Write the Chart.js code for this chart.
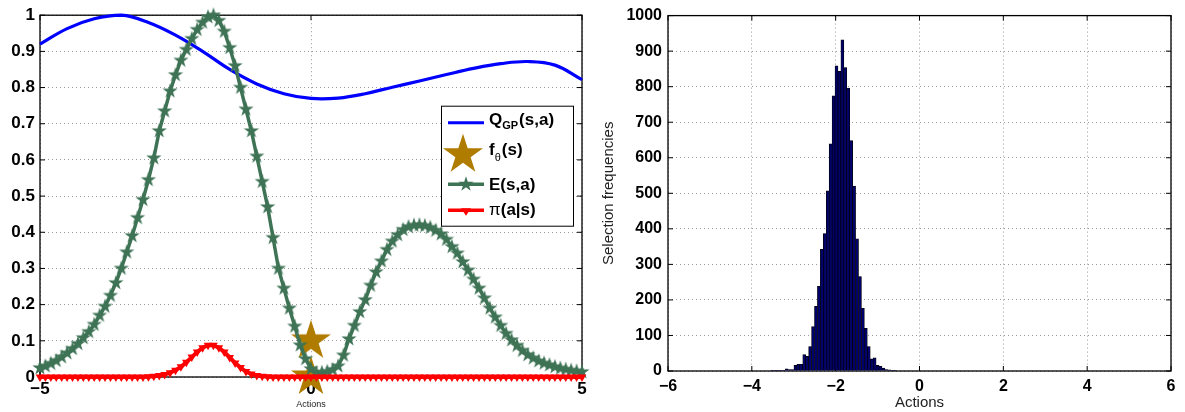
<!DOCTYPE html>
<html>
<head>
<meta charset="utf-8">
<script src="https://cdn.jsdelivr.net/npm/chart.js@4.4.0/dist/chart.umd.min.js"></script>
<style>
body { margin: 0; background: #fff; width: 1185px; height: 412px; overflow: hidden; position: relative; }
#wrapLeft { position: absolute; left: 0; top: 0; width: 595px; height: 412px; }
#wrapRight { position: absolute; left: 595px; top: 0; width: 590px; height: 412px; }
</style>
</head>
<body>
<div id="wrapLeft"><canvas id="chart"></canvas></div>
<div id="wrapRight"><canvas id="chart2"></canvas></div>
<script>
// ---- left panel data ----
var qActions = [-5, -4.5, -4, -3.5, -3, -2.5, -2, -1.5, -1, -0.5, 0, 0.5, 1, 1.5, 2, 2.5, 3, 3.5, 4, 4.5, 5];
var qValues  = [0.92, 0.963, 0.99, 1.0, 0.98, 0.945, 0.9, 0.85, 0.81, 0.783, 0.77, 0.771, 0.783, 0.801, 0.818, 0.836, 0.853, 0.866, 0.872, 0.862, 0.822];

var actions = [-5, -4.9, -4.8, -4.7, -4.6, -4.5, -4.4, -4.3, -4.2, -4.1,
    -4, -3.9, -3.8, -3.7, -3.6, -3.5, -3.4, -3.3, -3.2, -3.1,
    -3, -2.9, -2.8, -2.7, -2.6, -2.5, -2.4, -2.3, -2.2, -2.1,
    -2, -1.9, -1.8, -1.7, -1.6, -1.5, -1.4, -1.3, -1.2, -1.1,
    -1, -0.9, -0.8, -0.7, -0.6, -0.5, -0.4, -0.3, -0.2, -0.1,
    0, 0.1, 0.2, 0.3, 0.4, 0.5, 0.6, 0.7, 0.8, 0.9,
    1, 1.1, 1.2, 1.3, 1.4, 1.5, 1.6, 1.7, 1.8, 1.9,
    2, 2.1, 2.2, 2.3, 2.4, 2.5, 2.6, 2.7, 2.8, 2.9,
    3, 3.1, 3.2, 3.3, 3.4, 3.5, 3.6, 3.7, 3.8, 3.9,
    4, 4.1, 4.2, 4.3, 4.4, 4.5, 4.6, 4.7, 4.8, 4.9, 5];

var eValues = [0.025, 0.03, 0.037, 0.045, 0.055, 0.066, 0.078, 0.092, 0.108, 0.125,
    0.145, 0.17, 0.195, 0.225, 0.26, 0.3, 0.345, 0.39, 0.44, 0.49,
    0.545, 0.605, 0.68, 0.735, 0.79, 0.835, 0.875, 0.905, 0.935, 0.96,
    0.98, 0.995, 1.0, 0.985, 0.955, 0.91, 0.86, 0.8, 0.74, 0.68,
    0.61, 0.54, 0.47, 0.385, 0.3, 0.245, 0.19, 0.14, 0.088, 0.05,
    0.022, 0.012, 0.012, 0.015, 0.02, 0.03, 0.06, 0.105, 0.142, 0.18,
    0.213, 0.253, 0.29, 0.32, 0.352, 0.375, 0.393, 0.407, 0.415, 0.419,
    0.42, 0.418, 0.413, 0.405, 0.395, 0.38, 0.36, 0.342, 0.318, 0.295,
    0.27, 0.245, 0.218, 0.19, 0.165, 0.142, 0.12, 0.102, 0.087, 0.073,
    0.061, 0.052, 0.044, 0.038, 0.033, 0.028, 0.024, 0.021, 0.018, 0.016, 0.014];

var piValues = [0, 0, 0, 0, 0, 0, 0, 0, 0, 0,
    0, 0, 0, 0, 0, 0, 0, 0, 0, 0,
    0.001, 0.002, 0.004, 0.007, 0.012, 0.019, 0.028, 0.041, 0.055, 0.069,
    0.081, 0.088, 0.088, 0.081, 0.069, 0.054, 0.039, 0.026, 0.015, 0.008,
    0.004, 0.002, 0.001, 0, 0, 0, 0, 0, 0, 0,
    0, 0, 0, 0, 0, 0, 0, 0, 0, 0,
    0, 0, 0, 0, 0, 0, 0, 0, 0, 0,
    0, 0, 0, 0, 0, 0, 0, 0, 0, 0,
    0, 0, 0, 0, 0, 0, 0, 0, 0, 0,
    0, 0, 0, 0, 0, 0, 0, 0, 0, 0, 0];

var fActions = [0, 0];
var fValues  = [0.1, 0];

// ---- right panel data (histogram) ----
var binCenters = [-3.52, -3.45, -3.38, -3.31, -3.24, -3.17, -3.10, -3.03, -2.96, -2.89,
    -2.82, -2.75, -2.68, -2.61, -2.54, -2.47, -2.40, -2.33, -2.26, -2.19,
    -2.12, -2.05, -1.98, -1.91, -1.84, -1.77, -1.70, -1.63, -1.56, -1.49,
    -1.42, -1.35, -1.28, -1.21, -1.14, -1.07, -1.00, -0.93, -0.86, -0.79,
    -0.72, -0.65, -0.58];
var binCounts = [1, 1, 1, 2, 2, 6, 4, 4, 16, 19,
    19, 46, 41, 69, 125, 182, 238, 342, 387, 507,
    639, 774, 859, 843, 932, 854, 796, 648, 520, 372,
    266, 176, 120, 69, 34, 37, 16, 13, 8, 4,
    3, 1, 1];

var colQ = '#0000ff';
var colF = '#b07c00';
var colE = '#3e7355';
var colPi = '#ff0000';
var fontName = "'Liberation Sans', Arial, sans-serif";

Chart.defaults.font.family = fontName;
Chart.defaults.color = '#000';

function toXY(xs, ys) {
    var out = [];
    for (var i = 0; i < xs.length; i++) {
        out.push({x: xs[i], y: ys[i]});
    }
    return out;
}

function makeStar(r, color) {
    var c = document.createElement('canvas');
    var s = Math.ceil(r * 2 + 2);
    c.width = s;
    c.height = s;
    drawStar(c.getContext('2d'), s / 2, s / 2, r, color);
    return c;
}

function drawStar(g, cx, cy, r, color) {
    g.save();
    g.fillStyle = color;
    g.beginPath();
    for (var i = 0; i < 10; i++) {
        var rad = (i % 2 === 0) ? r : r * 0.382;
        var a = -Math.PI / 2 + i * Math.PI / 5;
        var px = cx + rad * Math.cos(a);
        var py = cy + rad * Math.sin(a);
        if (i === 0) g.moveTo(px, py); else g.lineTo(px, py);
    }
    g.closePath();
    g.fill();
    g.restore();
}

function minusSign(v) {
    return String(v).replace('-', '\u2212');
}

function plainNum(v) {
    return String(v);
}

var smallStar = makeStar(8, colE);
var bigStar = makeStar(21, colF);

// box frame + inward ticks, matlab style
var matlabBox = {
    id: 'matlabBox',
    beforeDatasetsDraw: function(chart) {
        var ctx = chart.ctx;
        var a = chart.chartArea;
        var sx = chart.scales.x;
        var sy = chart.scales.y;
        ctx.save();
        ctx.strokeStyle = '#000';
        ctx.lineWidth = 1.3;
        ctx.strokeRect(a.left, a.top, a.right - a.left, a.bottom - a.top);
        ctx.lineWidth = 1;
        ctx.beginPath();
        sx.ticks.forEach(function(t) {
            var px = sx.getPixelForValue(t.value);
            ctx.moveTo(px, a.bottom); ctx.lineTo(px, a.bottom - 5);
            ctx.moveTo(px, a.top); ctx.lineTo(px, a.top + 5);
        });
        sy.ticks.forEach(function(t) {
            var py = sy.getPixelForValue(t.value);
            ctx.moveTo(a.left, py); ctx.lineTo(a.left + 5, py);
            ctx.moveTo(a.right, py); ctx.lineTo(a.right - 5, py);
        });
        ctx.stroke();
        ctx.restore();
    }
};

// legend box in the upper right of the left panel
var legendBox = {
    id: 'legendBox',
    afterDatasetsDraw: function(chart) {
        if (chart.canvas.id !== 'chart') return;
        var ctx = chart.ctx;
        var a = chart.chartArea;
        var x0 = a.right - 141;
        var y0 = a.top + 90.5;
        ctx.save();
        ctx.fillStyle = '#fff';
        ctx.fillRect(x0, y0, 132, 120);
        ctx.strokeStyle = '#000';
        ctx.lineWidth = 1;
        ctx.strokeRect(x0 + 0.5, y0 + 0.5, 132, 120);

        var lx1 = x0 + 7, lx2 = x0 + 43, tx = x0 + 48;
        var bold = 'bold 17px ' + fontName;
        var sub = 'bold 11px ' + fontName;
        ctx.textBaseline = 'alphabetic';
        ctx.fillStyle = '#000';

        // Q_GP
        ctx.strokeStyle = colQ;
        ctx.lineWidth = 3;
        ctx.beginPath(); ctx.moveTo(lx1, y0 + 17); ctx.lineTo(lx2, y0 + 17); ctx.stroke();
        ctx.font = bold;
        ctx.fillText('Q', tx, y0 + 19);
        var w = ctx.measureText('Q').width;
        ctx.font = sub;
        ctx.fillText('GP', tx + w, y0 + 23);
        var w2 = ctx.measureText('GP').width;
        ctx.font = bold;
        ctx.fillText('(s,a)', tx + w + w2 + 1, y0 + 19);

        // f_theta
        drawStar(ctx, x0 + 22, y0 + 49, 21, colF);
        ctx.fillStyle = '#000';
        ctx.font = bold;
        ctx.fillText('f', tx, y0 + 49);
        w = ctx.measureText('f').width;
        ctx.font = '11px ' + fontName;
        ctx.fillText('\u03b8', tx + w, y0 + 55);
        w2 = ctx.measureText('\u03b8').width;
        ctx.font = bold;
        ctx.fillText('(s)', tx + w + w2 + 1, y0 + 49);

        // E(s,a)
        ctx.strokeStyle = colE;
        ctx.lineWidth = 3.5;
        ctx.beginPath(); ctx.moveTo(lx1, y0 + 78.5); ctx.lineTo(lx2, y0 + 78.5); ctx.stroke();
        drawStar(ctx, x0 + 25, y0 + 78.5, 8, colE);
        ctx.fillStyle = '#000';
        ctx.font = bold;
        ctx.fillText('E(s,a)', tx, y0 + 84);

        // pi(a|s)
        ctx.strokeStyle = colPi;
        ctx.lineWidth = 3.5;
        ctx.beginPath(); ctx.moveTo(lx1, y0 + 104.5); ctx.lineTo(lx2, y0 + 104.5); ctx.stroke();
        ctx.fillStyle = colPi;
        ctx.beginPath();
        ctx.moveTo(x0 + 20, y0 + 102.5); ctx.lineTo(x0 + 30, y0 + 102.5); ctx.lineTo(x0 + 25, y0 + 110);
        ctx.closePath(); ctx.fill();
        ctx.fillStyle = '#000';
        ctx.font = '17px ' + fontName;
        ctx.fillText('\u03c0', tx, y0 + 109);
        w = ctx.measureText('\u03c0').width;
        ctx.font = bold;
        ctx.fillText('(a|s)', tx + w, y0 + 109);
        ctx.restore();
    }
};

var ctxLeft = document.getElementById('chart').getContext('2d');
var myChart = new Chart(ctxLeft, {
    type: 'line',
    data: {
        datasets: [{
            label: 'Q_GP(s,a)',
            data: toXY(qActions, qValues),
            borderColor: colQ,
            borderWidth: 3.2,
            pointRadius: 0,
            tension: 0.4,
            clip: false,
            order: 3
        }, {
            label: 'f_theta(s)',
            data: toXY(fActions, fValues),
            showLine: false,
            pointStyle: bigStar,
            clip: false,
            order: 2
        }, {
            label: 'E(s,a)',
            data: toXY(actions, eValues),
            borderColor: colE,
            borderWidth: 3.5,
            pointStyle: smallStar,
            clip: false,
            order: 1
        }, {
            label: 'pi(a|s)',
            data: toXY(actions, piValues),
            borderColor: colPi,
            backgroundColor: colPi,
            borderWidth: 4,
            pointStyle: 'triangle',
            rotation: 180,
            pointRadius: 5,
            pointBorderWidth: 0,
            clip: false,
            order: 0
        }]
    },
    options: {
        responsive: true,
        maintainAspectRatio: false,
        animation: false,
        layout: { padding: { left: 0, right: 13, top: 12, bottom: 0 } },
        plugins: { legend: { display: false }, tooltip: { enabled: false } },
        scales: {
            x: {
                type: 'linear',
                min: -5,
                max: 5,
                afterFit: function(s) { s.height = 35; },
                ticks: { stepSize: 5, padding: 2, font: { size: 17, weight: 'bold' }, callback: minusSign },
                grid: { color: '#9a9a9a', lineWidth: 1, drawTicks: false },
                border: { display: false, dash: [1, 3] },
                title: { display: true, text: 'Actions', font: { size: 9 }, color: '#222', padding: { top: 0, bottom: 2 } }
            },
            y: {
                min: 0,
                max: 1,
                afterFit: function(s) { s.width = 40; },
                ticks: { stepSize: 0.1, padding: 5, font: { size: 17, weight: 'bold' }, callback: plainNum },
                grid: { color: '#9a9a9a', lineWidth: 1, drawTicks: false },
                border: { display: false, dash: [1, 3] }
            }
        }
    },
    plugins: [matlabBox, legendBox]
});

var ctxRight = document.getElementById('chart2').getContext('2d');
var myChart2 = new Chart(ctxRight, {
    type: 'bar',
    data: {
        datasets: [{
            label: 'Selection frequencies',
            data: toXY(binCenters, binCounts),
            backgroundColor: '#00006a',
            borderColor: '#000000',
            borderWidth: 0.7,
            barPercentage: 1,
            categoryPercentage: 1
        }]
    },
    options: {
        responsive: true,
        maintainAspectRatio: false,
        animation: false,
        layout: { padding: { left: 0, right: 14, top: 11, bottom: 0 } },
        plugins: { legend: { display: false }, tooltip: { enabled: false } },
        scales: {
            x: {
                type: 'linear',
                min: -6,
                max: 6,
                offset: false,
                afterFit: function(s) { s.height = 41; },
                ticks: { stepSize: 2, padding: 6, font: { size: 16, weight: 'bold' }, callback: minusSign },
                grid: { color: '#9a9a9a', lineWidth: 1, drawTicks: false, offset: false },
                border: { display: false, dash: [1, 3] },
                title: { display: true, text: 'Actions', font: { size: 15 }, color: '#222', padding: { top: 0, bottom: 0 } }
            },
            y: {
                min: 0,
                max: 1000,
                afterFit: function(s) { s.width = 73; },
                ticks: { stepSize: 100, padding: 6, font: { size: 16, weight: 'bold' }, callback: plainNum },
                grid: { color: '#9a9a9a', lineWidth: 1, drawTicks: false },
                border: { display: false, dash: [1, 3] },
                title: { display: true, text: 'Selection frequencies', font: { size: 15 }, color: '#222', padding: { top: 5, bottom: 0 } }
            }
        }
    },
    plugins: [matlabBox]
});
</script>
</body>
</html>
